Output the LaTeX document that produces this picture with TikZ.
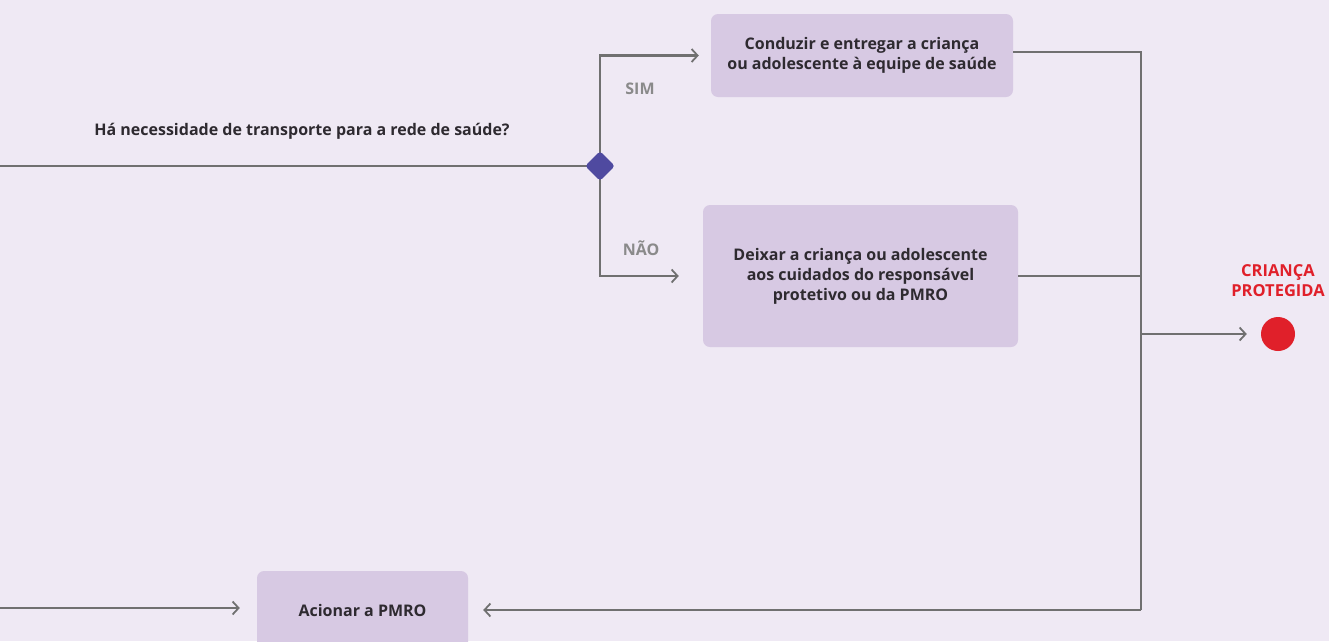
\documentclass[tikz,border=0pt]{standalone}
\usepackage{fontspec}
\setmainfont{Open Sans}
\usepackage{tikz}
\usetikzlibrary{arrows.meta, positioning, calc}

\definecolor{bgpurple}{HTML}{EFE9F4}
\definecolor{boxpurple}{HTML}{D7C9E3}
\definecolor{linegray}{HTML}{707070}
\definecolor{labelgray}{HTML}{8A8A8A}
\definecolor{textdark}{HTML}{2E2A30}
\definecolor{decblue}{HTML}{4F4AA0}
\definecolor{endred}{HTML}{E0202A}

\begin{document}
\begin{tikzpicture}[
    x=1pt, y=-1pt,
    stepbox/.style={fill=boxpurple, rounded corners=7pt, align=center, text=textdark, font=\fontsize{16}{20}\selectfont\bfseries},
    flow/.style={draw=linegray, line width=2.3pt},
    flowarrow/.style={flow, -{Straight Barb[length=6pt, width=13pt, line width=1.8pt]}},
    answer/.style={text=labelgray, font=\fontsize{16}{18}\selectfont\bfseries}
]
    \fill[bgpurple] (0,0) rectangle (1329,641);
    \useasboundingbox (0,0) rectangle (1329,641);
    \clip (0,0) rectangle (1329,641);

    \node[text=textdark, font=\fontsize{16}{18}\selectfont\bfseries] (pergunta) at (302,131) {Há necessidade de transporte para a rede de saúde?};

    \node[stepbox, minimum width=302pt, minimum height=83pt] (conduzir) at (862,55.5) {Conduzir e entregar a criança\\ou adolescente à equipe de saúde};
    \node[stepbox, minimum width=315pt, minimum height=142pt] (deixar) at (860.5,276) {Deixar a criança ou adolescente\\aos cuidados do responsável\\protetivo ou da PMRO};
    \node[stepbox, minimum width=211pt, minimum height=78pt] (acionar) at (362.5,610) {Acionar a PMRO};

    \node[answer] (sim) at (640,89) {SIM};
    \node[answer] (nao) at (641,248) {NÃO};

    \node[circle, fill=endred, minimum size=34pt, inner sep=0pt] (fim) at (1278,334) {};
    \node[text=endred, align=center, font=\fontsize{16.5}{20}\selectfont\bfseries] (protegida) at (1278,281) {CRIANÇA\\PROTEGIDA};

    \coordinate (decc) at (600,166);
    \coordinate (entrada) at (0,166);
    \coordinate (entrada2) at (0,608);
    \coordinate (jtop) at (1141,52);
    \coordinate (jmid) at (1141,334);
    \coordinate (jbot) at (1141,610);

    % decisao
    \draw[flow] (entrada) -- (decc);
    \draw[flowarrow, shorten >=12pt] (decc) |- (conduzir.west);
    \draw[flowarrow, shorten >=24pt] (decc) |- (deixar.west);
    \node[fill=decblue, rounded corners=3pt, rotate=45, minimum size=21pt, inner sep=0pt] (dec) at (decc) {};

    % juncao
    \draw[flow] (conduzir.east |- jtop) -- (jtop) -- (jbot);
    \draw[flow] (deixar.east) -- (deixar.east -| jtop);
    \draw[flowarrow, shorten >=14pt] (jmid) -- (fim.west);
    \draw[flowarrow, shorten >=15pt] (jbot) -- (acionar.east |- jbot);
    \draw[flowarrow, shorten >=17pt] (entrada2) -- (acionar.west |- entrada2);
\end{tikzpicture}
\end{document}
